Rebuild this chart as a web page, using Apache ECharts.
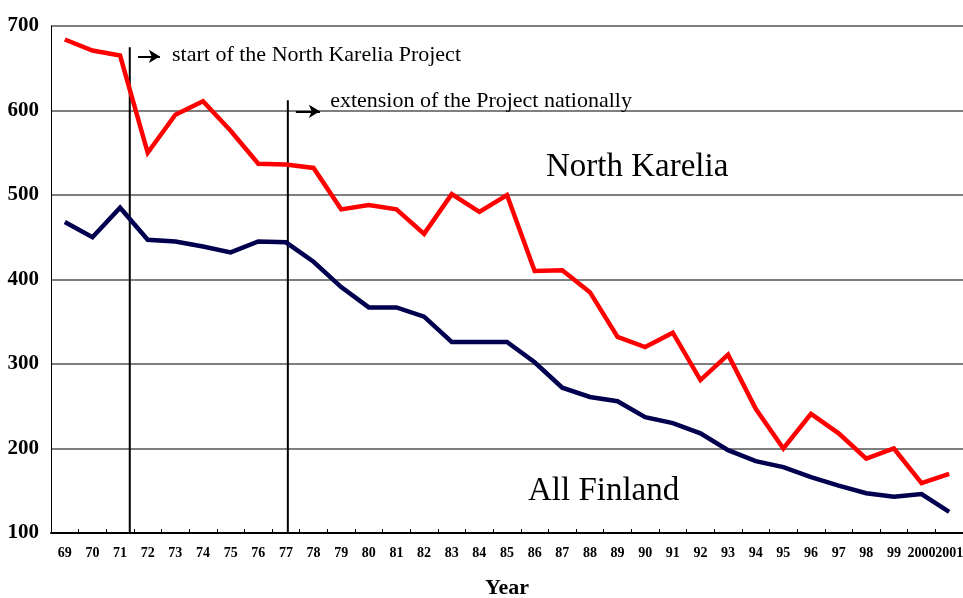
<!DOCTYPE html>
<html>
<head>
<meta charset="utf-8">
<script src="https://cdn.jsdelivr.net/npm/echarts@6/dist/echarts.min.js"></script>
<style>
  html, body { margin: 0; padding: 0; background: #fff; }
  #chart { width: 963px; height: 598px; }
</style>
</head>
<body>
<div id="chart"></div>
<script>
// Year labels on the category axis
const years = ['69','70','71','72','73','74','75','76','77','78','79','80','81','82','83','84','85',
  '86','87','88','89','90','91','92','93','94','95','96','97','98','99','2000','2001'];

// Mortality rates, 1969-2001
const northKarelia = [684, 671, 665, 550, 595, 611, 576, 537, 536, 532, 483, 488, 483, 454, 501, 480, 500,
  410, 411, 385, 332, 320, 337, 281, 311, 247, 200, 241, 218, 188, 200, 159, 170];
const allFinland = [468, 450, 485, 447, 445, 439, 432, 445, 444, 421, 391, 367, 367, 356, 326, 326, 326,
  302, 272, 261, 256, 237, 230, 218, 198, 185, 178, 166, 156, 147, 143, 146, 125];

// Project milestones (year position on a continuous scale, top of marker line)
const projectStart = { year: 1971.35, top: 675, arrowFrom: 1971.65, arrowTo: 1972.44, arrowY: 664 };
const projectExtension = { year: 1977.07, top: 612, arrowFrom: 1977.36, arrowTo: 1978.23, arrowY: 599 };

const serif = '"Liberation Serif", "Times New Roman", serif';

const chart = echarts.init(document.getElementById('chart'), null, { renderer: 'canvas' });

function marker(m) {
  return {
    type: 'line',
    xAxisIndex: 1,
    data: [[m.year, 100], [m.year, m.top]],
    symbol: 'none',
    silent: true,
    z: 1,
    lineStyle: { color: '#000', width: 2 },
    markLine: {
      silent: true,
      symbol: ['none', 'arrow'],
      symbolSize: [10, 11],
      label: { show: false },
      lineStyle: { color: '#000', width: 2, type: 'solid' },
      data: [[{ coord: [m.arrowFrom, m.arrowY] }, { coord: [m.arrowTo, m.arrowY] }]]
    }
  };
}

function note(x, y, text, size) {
  return {
    coord: [x, y],
    symbol: 'circle',
    symbolSize: 0,
    label: {
      show: true,
      position: 'right',
      distance: 0,
      formatter: text,
      color: '#000',
      fontFamily: serif,
      fontSize: size
    }
  };
}

chart.setOption({
  animation: false,
  backgroundColor: '#fff',
  grid: { left: 51, right: 0, top: 26, bottom: 65, containLabel: false, outerBoundsMode: 'none' },
  xAxis: [
    {
      type: 'category',
      data: years,
      boundaryGap: true,
      name: 'Year',
      nameLocation: 'middle',
      nameGap: 44,
      nameTextStyle: { fontFamily: serif, fontWeight: 'bold', fontSize: 22, color: '#000' },
      axisLine: { lineStyle: { color: '#000', width: 2 } },
      axisTick: { show: true, inside: true, length: 4, lineStyle: { color: '#000', width: 1 } },
      axisLabel: {
        interval: 0,
        margin: 13,
        fontFamily: serif,
        fontWeight: 'bold',
        fontSize: 14,
        color: '#000'
      },
      splitLine: { show: false }
    },
    {
      type: 'value',
      min: 1968.5,
      max: 2001.5,
      show: false
    }
  ],
  yAxis: {
    type: 'value',
    min: 100,
    max: 700,
    interval: 100,
    axisLine: { show: true, lineStyle: { color: '#000', width: 1 } },
    axisTick: { show: false },
    axisLabel: {
      margin: 12,
      fontFamily: serif,
      fontWeight: 'bold',
      fontSize: 21,
      color: '#000'
    },
    splitLine: { show: true, lineStyle: { color: '#555', width: 1.5 } }
  },
  series: [
    marker(projectStart),
    marker(projectExtension),
    {
      name: 'North Karelia',
      type: 'line',
      data: northKarelia,
      symbol: 'none',
      z: 3,
      lineStyle: { color: '#ff0000', width: 4.5, join: 'miter' }
    },
    {
      name: 'All Finland',
      type: 'line',
      data: allFinland,
      symbol: 'none',
      z: 3,
      lineStyle: { color: '#00004f', width: 4.5, join: 'miter' }
    },
    {
      type: 'scatter',
      xAxisIndex: 1,
      data: [],
      silent: true,
      markPoint: {
        silent: true,
        data: [
          note(1972.88, 665, 'start of the North Karelia Project', 22),
          note(1978.6, 611, 'extension of the Project nationally', 22),
          note(1986.41, 533, 'North Karelia', 33),
          note(1985.76, 149, 'All Finland', 33)
        ]
      }
    }
  ]
});
</script>
</body>
</html>
